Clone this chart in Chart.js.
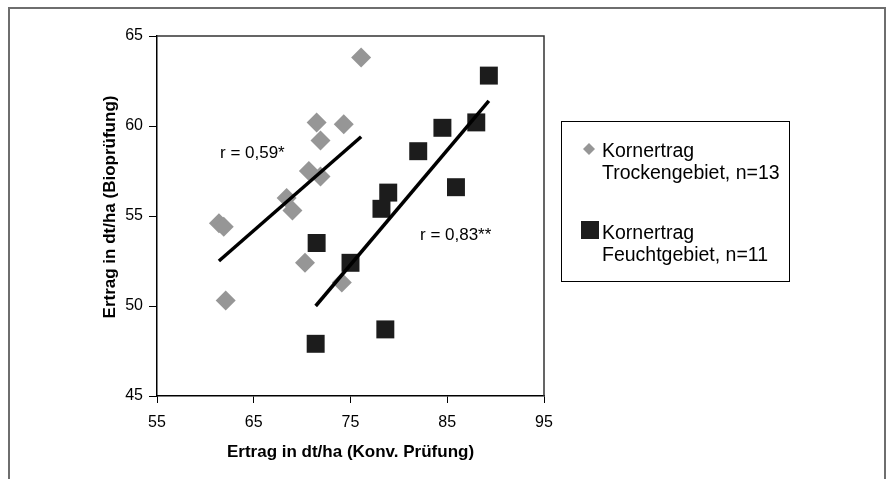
<!DOCTYPE html>
<html>
<head>
<meta charset="utf-8">
<script src="https://cdn.jsdelivr.net/npm/chart.js@4.4.0/dist/chart.umd.min.js"></script>
<style>
  body { margin: 0; background: #fff; }
  canvas { display: block; }
</style>
</head>
<body>
<canvas id="chart" width="888" height="479"></canvas>
<script>
// Kornertrag Trockengebiet (n=13)
var dryX = [76.1, 71.5, 74.3, 71.9, 70.7, 71.9, 68.4, 69.0, 61.4, 61.9, 70.3, 74.1, 62.1];
var dryY = [63.8, 60.2, 60.1, 59.2, 57.5, 57.2, 56.0, 55.3, 54.6, 54.4, 52.4, 51.3, 50.3];

// Kornertrag Feuchtgebiet (n=11)
var wetX = [89.3, 88.0, 84.5, 82.0, 85.9, 78.9, 78.2, 71.5, 75.0, 78.6, 71.4];
var wetY = [62.8, 60.2, 59.9, 58.6, 56.6, 56.3, 55.4, 53.5, 52.4, 48.7, 47.9];

// trend lines (end points)
var dryTrendX = [61.4, 76.1];
var dryTrendY = [52.5, 59.4];
var wetTrendX = [71.4, 89.3];
var wetTrendY = [50.0, 61.4];

var xTicks = [55, 65, 75, 85, 95];
var yTicks = [45, 50, 55, 60, 65];

var seriesLabels = [['Kornertrag', 'Trockengebiet, n=13'], ['Kornertrag', 'Feuchtgebiet, n=11']];
var rLabels = ['r = 0,59*', 'r = 0,83**'];
var xTitle = 'Ertrag in dt/ha (Konv. Prüfung)';
var yTitle = 'Ertrag in dt/ha (Bioprüfung)';

var FONT = '"Liberation Sans", Arial, sans-serif';

function toPoints(xs, ys)
{
	return xs.map(function (x, i) { return {x: x, y: ys[i]}; });
}

// frames, titles, r labels and legend box
var extras = {
	id: 'extras',
	afterDraw: function (chart)
	{
		var ctx = chart.ctx;
		var a = chart.chartArea;
		ctx.save();

		// outer frame (no bottom edge, picture is cut)
		ctx.strokeStyle = '#6e6e6e';
		ctx.lineWidth = 2;
		ctx.beginPath();
		ctx.moveTo(9, 479);
		ctx.lineTo(9, 8);
		ctx.lineTo(885, 8);
		ctx.lineTo(885, 479);
		ctx.stroke();

		// top and right edge of plot area
		ctx.strokeStyle = '#333';
		ctx.lineWidth = 1.5;
		ctx.beginPath();
		ctx.moveTo(a.left, a.top);
		ctx.lineTo(a.right, a.top);
		ctx.lineTo(a.right, a.bottom);
		ctx.stroke();

		// axis titles
		ctx.fillStyle = '#000';
		ctx.font = 'bold 17px ' + FONT;
		ctx.textAlign = 'center';
		ctx.textBaseline = 'middle';
		ctx.fillText(xTitle, (a.left + a.right) / 2, 452);
		ctx.save();
		ctx.translate(110, 207);
		ctx.rotate(-Math.PI / 2);
		ctx.fillText(yTitle, 0, 0);
		ctx.restore();

		// correlation labels
		ctx.font = '17px ' + FONT;
		ctx.textAlign = 'left';
		ctx.fillText(rLabels[0], 220, 153);
		ctx.fillText(rLabels[1], 420, 235);

		// legend
		ctx.strokeStyle = '#000';
		ctx.lineWidth = 1;
		ctx.strokeRect(561.5, 121.5, 228, 160);

		var ds = chart.data.datasets;
		ctx.fillStyle = ds[2].backgroundColor;
		ctx.beginPath();
		ctx.moveTo(589, 143);
		ctx.lineTo(595, 149);
		ctx.lineTo(589, 155);
		ctx.lineTo(583, 149);
		ctx.closePath();
		ctx.fill();

		ctx.fillStyle = ds[3].backgroundColor;
		ctx.fillRect(581, 221, 18, 18);

		ctx.fillStyle = '#000';
		ctx.font = '19.5px ' + FONT;
		ctx.textBaseline = 'alphabetic';
		ctx.fillText(seriesLabels[0][0], 602, 156.5);
		ctx.fillText(seriesLabels[0][1], 602, 178.5);
		ctx.fillText(seriesLabels[1][0], 602, 239);
		ctx.fillText(seriesLabels[1][1], 602, 261);

		ctx.restore();
	}
};

var chart = new Chart(document.getElementById('chart').getContext('2d'), {
	type: 'scatter',
	data: {
		datasets: [
			{
				label: 'trend dry',
				data: toPoints(dryTrendX, dryTrendY),
				showLine: true,
				borderColor: '#000',
				borderWidth: 3.5,
				pointRadius: 0,
				order: 0
			},
			{
				label: 'trend wet',
				data: toPoints(wetTrendX, wetTrendY),
				showLine: true,
				borderColor: '#000',
				borderWidth: 3.5,
				pointRadius: 0,
				order: 0
			},
			{
				label: seriesLabels[0].join(' '),
				data: toPoints(dryX, dryY),
				pointStyle: 'rectRot',
				pointRadius: 10,
				backgroundColor: '#969696',
				borderColor: '#969696',
				borderWidth: 0,
				order: 1
			},
			{
				label: seriesLabels[1].join(' '),
				data: toPoints(wetX, wetY),
				pointStyle: 'rect',
				pointRadius: 12.7,
				backgroundColor: '#1c1c1c',
				borderColor: '#1c1c1c',
				borderWidth: 0,
				order: 2
			}
		]
	},
	options: {
		responsive: false,
		animation: false,
		layout: { padding: { left: 0, top: 36, right: 344, bottom: 0 } },
		plugins: {
			legend: { display: false },
			tooltip: { enabled: false }
		},
		scales: {
			x: {
				type: 'linear',
				min: 55,
				max: 95,
				afterFit: function (s) { s.height = 83; },
				afterBuildTicks: function (s) { s.ticks = xTicks.map(function (v) { return {value: v}; }); },
				ticks: { color: '#000', font: { family: FONT, size: 16 }, padding: 10, maxRotation: 0 },
				grid: { drawOnChartArea: false, tickLength: 7, color: '#000', tickWidth: 1 },
				border: { color: '#000', width: 1.5 }
			},
			y: {
				type: 'linear',
				min: 45,
				max: 65,
				afterFit: function (s) { s.width = 157; },
				afterBuildTicks: function (s) { s.ticks = yTicks.map(function (v) { return {value: v}; }); },
				ticks: { color: '#000', font: { family: FONT, size: 16 }, padding: 6 },
				grid: { drawOnChartArea: false, tickLength: 8, color: '#000', tickWidth: 1 },
				border: { color: '#000', width: 1.5 }
			}
		}
	},
	plugins: [extras]
});
</script>
</body>
</html>
